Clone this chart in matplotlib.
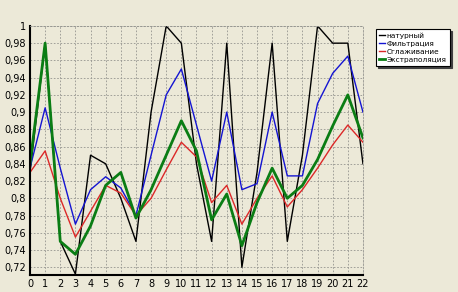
import matplotlib
matplotlib.use('Agg')
import matplotlib.pyplot as plt
from matplotlib.ticker import FixedLocator
import numpy as np

# data
steps = list(range(23))
naturn = [0.83, 0.98, 0.75, 0.712, 0.85, 0.84, 0.80, 0.75, 0.90, 1.0, 0.98, 0.84,
          0.75, 0.98, 0.72, 0.83, 0.98, 0.75, 0.85, 1.0, 0.98, 0.98, 0.84]
filtr = [0.835, 0.905, 0.835, 0.77, 0.81, 0.825, 0.812, 0.78, 0.85, 0.92, 0.95, 0.885,
         0.82, 0.90, 0.81, 0.817, 0.90, 0.826, 0.826, 0.91, 0.945, 0.965, 0.90]
smooth = [0.83, 0.855, 0.80, 0.755, 0.785, 0.815, 0.806, 0.78, 0.80, 0.833, 0.865, 0.848,
          0.795, 0.815, 0.77, 0.80, 0.826, 0.79, 0.81, 0.835, 0.862, 0.885, 0.865]
extrap = [0.84, 0.98, 0.75, 0.735, 0.768, 0.815, 0.83, 0.777, 0.81, 0.85, 0.89, 0.855,
          0.775, 0.805, 0.745, 0.795, 0.835, 0.80, 0.815, 0.845, 0.884, 0.92, 0.87]
names = ['натурный', 'Фильтрация', 'Сглаживание', 'Экстраполяция']
yticks = [0.72, 0.74, 0.76, 0.78, 0.8, 0.82, 0.84, 0.86, 0.88, 0.9, 0.92, 0.94, 0.96, 0.98, 1.0]
ylabels = ['0,72', '0,74', '0,76', '0,78', '0,8', '0,82', '0,84', '0,86', '0,88', '0,9',
           '0,92', '0,94', '0,96', '0,98', '1']

BG = '#ECE9D8'
plt.rc('font', size=7)

fig = plt.figure(figsize=(4.58, 2.92), dpi=100, facecolor=BG)
ax = fig.add_axes([0.0655, 0.0582, 0.727, 0.853], facecolor=BG)

l1, = ax.plot(steps, naturn, color='black', lw=1.0)
l2, = ax.plot(steps, filtr, color='#1414d2', lw=1.0)
l3, = ax.plot(steps, smooth, color='#dc2828', lw=1.0)
l4, = ax.plot(steps, extrap, color='#0a7d14', lw=2.0)

ax.set_xlim(0, 22)
ax.set_ylim(0.711, 1.0)
ax.xaxis.set_major_locator(FixedLocator(steps))
ax.set_xticklabels([str(s) for s in steps])
ax.yaxis.set_major_locator(FixedLocator(yticks))
ax.set_yticklabels(ylabels)
ax.tick_params(length=0, pad=3, labelsize=7)

ax.grid(True, color='#959590', ls=(0, (2, 2)), lw=0.6)
ax.spines['left'].set_linewidth(1.5)
ax.spines['bottom'].set_linewidth(1.5)
for s in ['top', 'right']:
    ax.spines[s].set_color('#959590')
    ax.spines[s].set_linestyle((0, (2, 2)))
    ax.spines[s].set_linewidth(0.6)

leg = fig.legend([l1, l2, l3, l4], names, loc='upper left',
                 bbox_to_anchor=(0.82, 0.90), fontsize=5.3, frameon=True,
                 fancybox=False, shadow={'ox': 1.5, 'oy': -1.5, 'color': '#404040', 'alpha': 1},
                 handlelength=0.9, handletextpad=0.15,
                 borderpad=0.45, labelspacing=0.25, borderaxespad=0)
leg.get_frame().set_edgecolor('black')
leg.get_frame().set_linewidth(0.8)

fig.savefig('out.png', dpi=100, facecolor=BG)
